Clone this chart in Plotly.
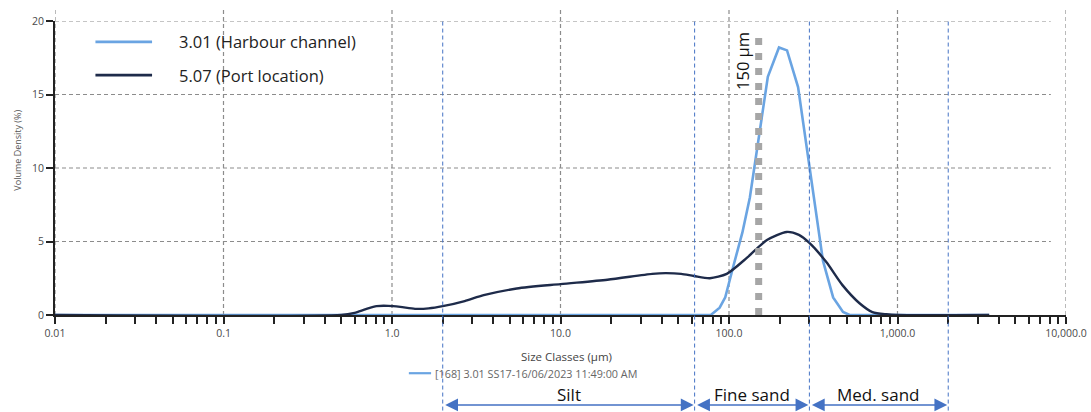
import math
import plotly.graph_objects as go

# Particle size distributions (volume density, %), size in µm
sizes_harbour = [0.01, 70, 78, 88, 95, 106, 120, 133, 153, 170, 198, 221, 257, 300,
                 324, 361, 415, 475, 520, 3500]
density_harbour = [0, 0, 0, 0.5, 1.2, 3.3, 5.6, 8.0, 12.6, 16.2, 18.2, 18.0, 15.5, 10.1,
                   7.6, 3.7, 1.2, 0.2, 0, 0]

sizes_port = [0.01, 0.5, 0.6, 0.7, 0.81, 0.95, 1.12, 1.37, 1.65, 2.0, 2.7, 3.5, 5.5, 10,
              19, 35, 42, 52, 62, 77, 97, 128, 168, 220, 260, 300, 378, 470, 595, 710,
              860, 1000, 3500]
density_port = [0, 0, 0.15, 0.4, 0.6, 0.62, 0.55, 0.42, 0.45, 0.6, 0.95, 1.35, 1.8, 2.1,
                2.4, 2.8, 2.85, 2.8, 2.65, 2.5, 2.8, 3.9, 5.1, 5.65, 5.45, 4.9, 3.6, 2.05,
                0.8, 0.2, 0.05, 0, 0]

series_names = ["3.01 (Harbour channel)", "5.07 (Port location)"]
sample_caption = "[168] 3.01 SS17-16/06/2023 11:49:00 AM"

# Grain-size class boundaries (µm) and class names
class_bounds = [2, 62.5, 300, 2000]
class_names = ["Silt", "Fine sand", "Med. sand"]
cut_size = 150
cut_label = "150 µm"

decade_vals = [0.01, 0.1, 1, 10, 100, 1000, 10000]
decade_text = ["0.01", "0.1", "1.0", "10.0", "100.0", "1,000.0", "10,000.0"]
y_ticks = [0, 5, 10, 15, 20]

LIGHT = "#6aa4e2"
DARK = "#1e2b4a"
ARROW = "#4472c4"
FONT = "Open Sans"

# all 1..9 multiples as ticks, labels only on decades
tick_vals, tick_text = [], []
for d in decade_vals:
    for m in range(1, 10):
        v = d * m
        if v > decade_vals[-1] + 1e-9:
            break
        tick_vals.append(v)
        tick_text.append(decade_text[decade_vals.index(d)] if m == 1 else "")

fig = go.Figure()
fig.add_trace(go.Scatter(x=sizes_harbour, y=density_harbour, mode="lines",
                         line=dict(color=LIGHT, width=2.6), showlegend=False))
fig.add_trace(go.Scatter(x=sizes_port, y=density_port, mode="lines",
                         line=dict(color=DARK, width=2.4, shape="spline", smoothing=0.7),
                         showlegend=False))

shapes = []
# dashed grid
for v in decade_vals:
    shapes.append(dict(type="line", xref="x", yref="paper", x0=v, x1=v, y0=0, y1=1.045,
                       line=dict(color="#8c8c8c", width=1.2, dash="4px,3px"), layer="below"))
for v in y_ticks[1:]:
    shapes.append(dict(type="line", xref="paper", yref="y", x0=0, x1=0.985, y0=v, y1=v,
                       line=dict(color="#8c8c8c", width=1.2, dash="4px,3px"), layer="below"))
# class boundaries
for b in class_bounds:
    shapes.append(dict(type="line", xref="x", yref="paper", x0=b, x1=b, y0=-0.325, y1=1.003,
                       line=dict(color=ARROW, width=1, dash="4px,3px")))
# 150 µm cut line
shapes.append(dict(type="line", xref="x", yref="y", x0=cut_size, x1=cut_size, y0=0, y1=19.1,
                   line=dict(color="#a6a6a6", width=7, dash="7px,8px")))

annotations = []
# class arrows and names
for i, name in enumerate(class_names):
    lo, hi = math.log10(class_bounds[i]), math.log10(class_bounds[i + 1])
    annotations.append(dict(x=hi, y=-0.306, xref="x", yref="paper", ax=lo, ay=0,
                            axref="x", ayref="pixel", text="", showarrow=True,
                            arrowhead=2, arrowside="end+start", arrowsize=1.6,
                            arrowwidth=1.6, arrowcolor=ARROW, startarrowhead=2,
                            startarrowsize=1.6, standoff=1, startstandoff=1))
    annotations.append(dict(x=(lo + hi) / 2, y=-0.27, xref="x", yref="paper", text=name,
                            showarrow=False, font=dict(family=FONT, size=17, color="#111"),
                            yanchor="middle"))
annotations.append(dict(x=math.log10(cut_size), y=19.4, xref="x", yref="y", text=cut_label,
                        showarrow=False, textangle=-90, xanchor="right", yanchor="top",
                        xshift=-2, font=dict(family=FONT, size=16.5, color="#111")))
# legend entries
legend_rows = [(0.929, LIGHT), (0.816, DARK)]
for (yy, col), name in zip(legend_rows, series_names):
    shapes.append(dict(type="line", xref="paper", yref="paper", x0=0.040, x1=0.096,
                       y0=yy, y1=yy, line=dict(color=col, width=2.6)))
    annotations.append(dict(x=0.121, y=yy, xref="paper", yref="paper", text=name,
                            showarrow=False, xanchor="left", yanchor="middle",
                            font=dict(family=FONT, size=16.5, color="#222")))
# axis titles and caption
annotations.append(dict(x=0.506, y=-0.14, xref="paper", yref="paper",
                        text="Size Classes (µm)", showarrow=False, yanchor="middle",
                        font=dict(family=FONT, size=11.5, color="#444")))
annotations.append(dict(x=-0.038, y=0.561, xref="paper", yref="paper",
                        text="Volume Density (%)", showarrow=False, textangle=-90,
                        xanchor="center", yanchor="middle",
                        font=dict(family=FONT, size=9, color="#555")))
shapes.append(dict(type="line", xref="paper", yref="paper", x0=0.35, x1=0.372,
                   y0=-0.198, y1=-0.198, line=dict(color=LIGHT, width=2.2)))
annotations.append(dict(x=0.374, y=-0.198, xref="paper", yref="paper", text=sample_caption,
                        showarrow=False, xanchor="left", yanchor="middle",
                        font=dict(family=FONT, size=10.8, color="#666")))

fig.update_layout(
    width=1091, height=412,
    margin=dict(l=55, r=25, t=21, b=97, autoexpand=False),
    paper_bgcolor="white", plot_bgcolor="white",
    shapes=shapes, annotations=annotations,
    xaxis=dict(type="log", range=[-2, 4], tickvals=tick_vals, ticktext=tick_text,
               ticks="outside", ticklen=7, tickwidth=2, tickcolor="#222",
               showline=True, linecolor="#222", linewidth=2, showgrid=False,
               zeroline=False, automargin=False,
               tickfont=dict(family=FONT, size=10.5, color="#4a4a4a")),
    yaxis=dict(range=[0, 20], tickvals=y_ticks, ticks="outside", ticklen=7,
               tickwidth=2, tickcolor="#222", showline=True, linecolor="#222",
               linewidth=2, showgrid=False, zeroline=False, automargin=False,
               tickfont=dict(family=FONT, size=10.5, color="#4a4a4a")),
)

fig.write_html("out.html")
